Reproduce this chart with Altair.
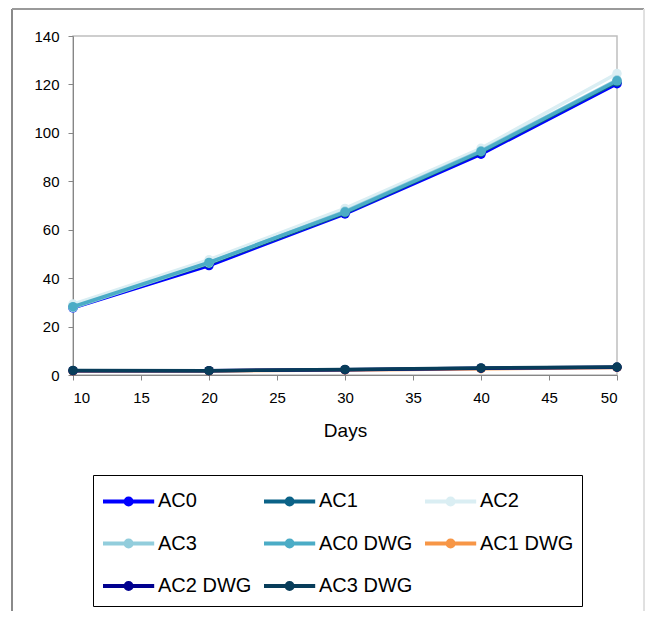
import altair as alt
import pandas as pd

days = [10, 20, 30, 40, 50]
series = ["AC0", "AC1", "AC2", "AC3", "AC0 DWG", "AC1 DWG", "AC2 DWG", "AC3 DWG"]
values = {
    "AC0": [27.7, 45.2, 66.5, 91.2, 120.3],
    "AC1": [28.3, 46.0, 67.0, 92.0, 121.0],
    "AC2": [29.3, 47.6, 68.8, 93.6, 124.5],
    "AC3": [27.8, 46.3, 67.6, 92.6, 121.8],
    "AC0 DWG": [28.2, 46.5, 67.3, 92.3, 121.5],
    "AC1 DWG": [1.7, 1.7, 2.1, 2.6, 3.1],
    "AC2 DWG": [1.8, 1.8, 2.2, 2.8, 3.2],
    "AC3 DWG": [1.9, 1.8, 2.3, 2.9, 3.3],
}
colors = {
    "AC0": "#0000FF", "AC1": "#0B6287", "AC2": "#DAEEF3", "AC3": "#92CDDC",
    "AC0 DWG": "#4BACC6", "AC1 DWG": "#F79646", "AC2 DWG": "#00008F", "AC3 DWG": "#083D5A",
}
# legend is filled column by column: this order gives rows AC0/AC1/AC2, AC3/AC0 DWG/AC1 DWG, AC2 DWG/AC3 DWG
legend_order = ["AC0", "AC3", "AC2 DWG", "AC1", "AC0 DWG", "AC3 DWG", "AC2", "AC1 DWG"]
x_ticks = [10, 15, 20, 25, 30, 35, 40, 45, 50]
y_ticks = [0, 20, 40, 60, 80, 100, 120, 140]

rows = []
for i, s in enumerate(series):
    for d, v in zip(days, values[s]):
        rows.append({"Days": d, "value": v, "series": s, "order": i})
df = pd.DataFrame(rows)

FONT = "Liberation Sans"
# line with a dot, drawn in units of the symbol radius (16 px)
sym = "M-1,0L2.2,0M0.41,0A0.19,0.19 0 1,0 0.79,0A0.19,0.19 0 1,0 0.41,0"

color = alt.Color(
    "series:N",
    scale=alt.Scale(domain=legend_order, range=[colors[s] for s in legend_order]),
    legend=alt.Legend(
        title=None,
        orient="none",
        legendX=20,
        legendY=439,
        columns=3,
        symbolType=sym,
        symbolSize=1024,
        symbolStrokeWidth=4,
        labelFontSize=20,
        labelFont=FONT,
        labelColor="#000000",
        labelOffset=21,
        strokeColor="#000000",
        fillColor="#FFFFFF",
        padding=8,
        titlePadding=0,
        columnPadding=4,
        rowPadding=12.5,
    ),
)

x = alt.X(
    "Days:Q",
    scale=alt.Scale(domain=[10, 50], nice=False, zero=False),
    axis=alt.Axis(
        values=x_ticks, grid=False, tickSize=5, domainColor="#868686", tickColor="#868686",
        labelFontSize=15, labelFont=FONT, labelColor="#000000", labelPadding=10,
        title="Days", titleFontSize=19, titleFont=FONT, titleFontWeight="normal",
        titleColor="#000000", titlePadding=16,
    ),
)
y = alt.Y(
    "value:Q",
    scale=alt.Scale(domain=[0, 140], nice=False),
    axis=alt.Axis(
        values=y_ticks, grid=False, tickSize=5, domainColor="#868686", tickColor="#868686",
        labelFontSize=15, labelFont=FONT, labelColor="#000000", labelPadding=9, title=None,
    ),
)

frame_left = alt.Chart(df).mark_rule(color="#8a8a8a", strokeWidth=2, clip=False).encode(
    x=alt.value(-61), y=alt.value(-27), y2=alt.value(600)
)
frame_top = alt.Chart(df).mark_rule(color="#9a9a9a", strokeWidth=2, clip=False).encode(
    x=alt.value(-61), x2=alt.value(571), y=alt.value(-27)
)
frame_right = alt.Chart(df).mark_rule(color="#e0e0e0", strokeWidth=1, clip=False).encode(
    x=alt.value(571), y=alt.value(-27), y2=alt.value(600)
)

layers = [frame_left, frame_top, frame_right]
for s in series:
    sub = df[df["series"] == s]
    layers.append(alt.Chart(sub).mark_line(strokeWidth=3.5).encode(x=x, y=y, color=color))
    layers.append(alt.Chart(sub).mark_point(filled=True, size=90, opacity=1).encode(x=x, y=y, color=color))

chart = alt.layer(*layers).properties(
    width=544,
    height=339,
    autosize=alt.AutoSizeParams(type="none"),
    padding={"left": 65, "top": 28, "right": 28, "bottom": 236},
    background="#FFFFFF",
).configure_view(stroke="#bfbfbf", strokeWidth=1.5)

chart.save("out.html", embed_options={"renderer": "svg", "actions": False})
